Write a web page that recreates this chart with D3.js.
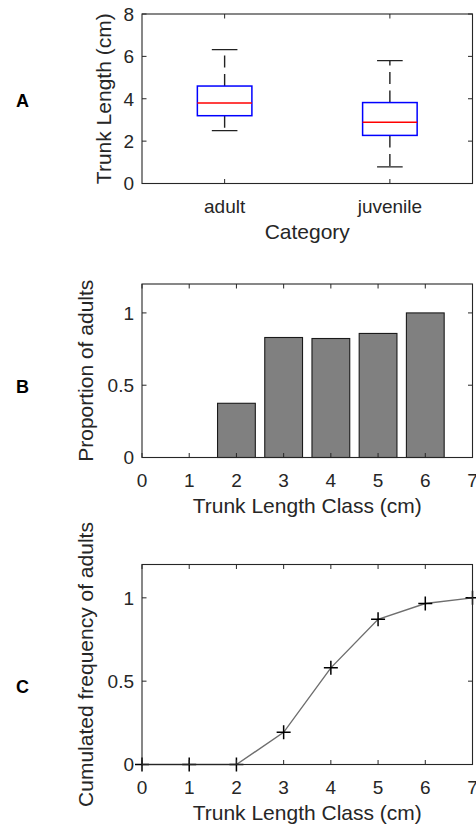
<!DOCTYPE html>
<html>
<head>
<meta charset="utf-8">
<script src="https://cdn.jsdelivr.net/npm/d3@7"></script>
<style>
  body { margin: 0; background: #fff; }
  svg { display: block; font-family: "Liberation Sans", Arial, sans-serif; }
</style>
</head>
<body>
<svg width="476" height="824"></svg>
<script>
// Painel A - boxplot
var categories = ["adult", "juvenile"];
var whiskerLow = [2.5, 0.78];
var quartile1 = [3.2, 2.27];
var medians = [3.8, 2.89];
var quartile3 = [4.6, 3.82];
var whiskerHigh = [6.32, 5.8];
var ticksA = [0, 2, 4, 6, 8];

// Painel B - barras
var barClasses = [0, 1, 2, 3, 4, 5, 6];
var proportionAdults = [0, 0, 0.375, 0.83, 0.823, 0.858, 1];

// Painel C - frequencia acumulada
var lengthClasses = [0, 1, 2, 3, 4, 5, 6, 7];
var cumulatedAdults = [0, 0, 0, 0.193, 0.58, 0.871, 0.966, 1];
var ticksX = [0, 1, 2, 3, 4, 5, 6, 7];
var ticksProp = [0, 0.5, 1];

var textColor = "#262626";
var left = 142, right = 472.5;
var svg = d3.select("svg");

/*
Moldura com ticks para dentro nos 4 lados (estilo MATLAB)
*/
function frame(x, y, xTicks, yTicks, xFormat) {
    var top = y.range()[1], bottom = y.range()[0];
    var g = svg.append("g");
    var tl = 4.5;

    g.selectAll(".xt").data(xTicks).enter().append("path")
        .attr("d", function(d) {
            return "M" + x(d) + "," + bottom + "v" + (-tl) + "M" + x(d) + "," + top + "v" + tl;
        })
        .attr("stroke", textColor).attr("stroke-width", 1);

    g.selectAll(".yt").data(yTicks).enter().append("path")
        .attr("d", function(d) {
            return "M" + left + "," + y(d) + "h" + tl + "M" + right + "," + y(d) + "h" + (-tl);
        })
        .attr("stroke", textColor).attr("stroke-width", 1);

    g.append("rect")
        .attr("x", left).attr("y", top)
        .attr("width", right - left).attr("height", bottom - top)
        .attr("fill", "none").attr("stroke", textColor).attr("stroke-width", 1.1);

    g.selectAll(".xl").data(xTicks).enter().append("text")
        .attr("x", function(d) { return x(d); })
        .attr("y", bottom + 29.5)
        .attr("text-anchor", "middle")
        .attr("font-size", 19)
        .attr("fill", textColor)
        .text(xFormat || function(d) { return d; });

    g.selectAll(".yl").data(yTicks).enter().append("text")
        .attr("x", left - 8)
        .attr("y", function(d) { return y(d) + 6.8; })
        .attr("text-anchor", "end")
        .attr("font-size", 19)
        .attr("fill", textColor)
        .text(function(d) { return d; });
    return g;
}

function labels(top, bottom, yTitle, yTitleX, xTitle, letter, letterY) {
    svg.append("text")
        .attr("transform", "translate(" + yTitleX + "," + ((top + bottom) / 2) + ") rotate(-90)")
        .attr("text-anchor", "middle")
        .attr("font-size", 21)
        .attr("fill", textColor)
        .text(yTitle);
    svg.append("text")
        .attr("x", (left + right) / 2)
        .attr("y", bottom + 55)
        .attr("text-anchor", "middle")
        .attr("font-size", 21)
        .attr("fill", textColor)
        .text(xTitle);
    svg.append("text")
        .attr("x", 22.5)
        .attr("y", letterY)
        .attr("text-anchor", "middle")
        .attr("font-size", 18)
        .attr("font-weight", "bold")
        .attr("fill", "#000")
        .text(letter);
}

/*
Painel A
*/
var xA = d3.scaleLinear().domain([0.5, 2.5]).range([left, right]);
var yA = d3.scaleLinear().domain([0, 8]).range([183.5, 14]);
var idx = d3.range(categories.length);
var boxW = 0.33, capW = 0.155;

var boxes = svg.append("g");
boxes.selectAll(".wh").data(idx).enter().append("path")
    .attr("d", function(i) {
        var cx = xA(i + 1);
        return "M" + cx + "," + yA(quartile3[i]) + "V" + yA(whiskerHigh[i]) +
               "M" + cx + "," + yA(quartile1[i]) + "V" + yA(whiskerLow[i]);
    })
    .attr("stroke", "#222").attr("stroke-width", 1.4)
    .attr("stroke-dasharray", "12,6.5").attr("fill", "none");
boxes.selectAll(".cap").data(idx).enter().append("path")
    .attr("d", function(i) {
        var a = xA(i + 1 - capW / 2), b = xA(i + 1 + capW / 2);
        return "M" + a + "," + yA(whiskerHigh[i]) + "H" + b +
               "M" + a + "," + yA(whiskerLow[i]) + "H" + b;
    })
    .attr("stroke", "#222").attr("stroke-width", 1.3);
boxes.selectAll(".box").data(idx).enter().append("rect")
    .attr("x", function(i) { return xA(i + 1 - boxW / 2); })
    .attr("y", function(i) { return yA(quartile3[i]); })
    .attr("width", xA(1 + boxW / 2) - xA(1 - boxW / 2))
    .attr("height", function(i) { return yA(quartile1[i]) - yA(quartile3[i]); })
    .attr("fill", "none").attr("stroke", "#0000ff").attr("stroke-width", 1.5);
boxes.selectAll(".med").data(idx).enter().append("path")
    .attr("d", function(i) {
        return "M" + xA(i + 1 - boxW / 2) + "," + yA(medians[i]) + "H" + xA(i + 1 + boxW / 2);
    })
    .attr("stroke", "#ff0000").attr("stroke-width", 1.5);

frame(xA, yA, [1, 2], ticksA, function(d) { return categories[d - 1]; });
labels(14, 183.5, "Trunk Length (cm)", 111, "Category", "A", 107);

/*
Painel B
*/
var xB = d3.scaleLinear().domain([0, 7]).range([left, right]);
var yB = d3.scaleLinear().domain([0, 1.2]).range([457.5, 284]);

svg.append("g").selectAll("rect")
    .data(barClasses.filter(function(d, i) { return proportionAdults[i] > 0; }))
    .enter().append("rect")
    .attr("x", function(d) { return xB(d - 0.4); })
    .attr("width", xB(0.8) - xB(0))
    .attr("y", function(d) { return yB(proportionAdults[barClasses.indexOf(d)]); })
    .attr("height", function(d) { return yB(0) - yB(proportionAdults[barClasses.indexOf(d)]); })
    .attr("fill", "#808080").attr("stroke", "#1a1a1a").attr("stroke-width", 1.1);

frame(xB, yB, ticksX, ticksProp);
labels(284, 457.5, "Proportion of adults", 92.5, "Trunk Length Class (cm)", "B", 392.7);

/*
Painel C
*/
var xC = d3.scaleLinear().domain([0, 7]).range([left, right]);
var yC = d3.scaleLinear().domain([0, 1.2]).range([764.5, 564.5]);

var line = d3.line()
    .x(function(d, i) { return xC(lengthClasses[i]); })
    .y(function(d) { return yC(d); });

svg.append("path")
    .datum(cumulatedAdults)
    .attr("d", line)
    .attr("fill", "none").attr("stroke", "#6e6e6e").attr("stroke-width", 1.4);

svg.append("g").selectAll("path")
    .data(cumulatedAdults)
    .enter().append("path")
    .attr("d", function(d, i) {
        var px = xC(lengthClasses[i]), py = yC(d), s = 7;
        return "M" + (px - s) + "," + py + "h" + (2 * s) + "M" + px + "," + (py - s) + "v" + (2 * s);
    })
    .attr("stroke", "#000").attr("stroke-width", 1.5);

frame(xC, yC, ticksX, ticksProp);
labels(564.5, 764.5, "Cumulated frequency of adults", 92.5, "Trunk Length Class (cm)", "C", 692.7);
</script>
</body>
</html>
